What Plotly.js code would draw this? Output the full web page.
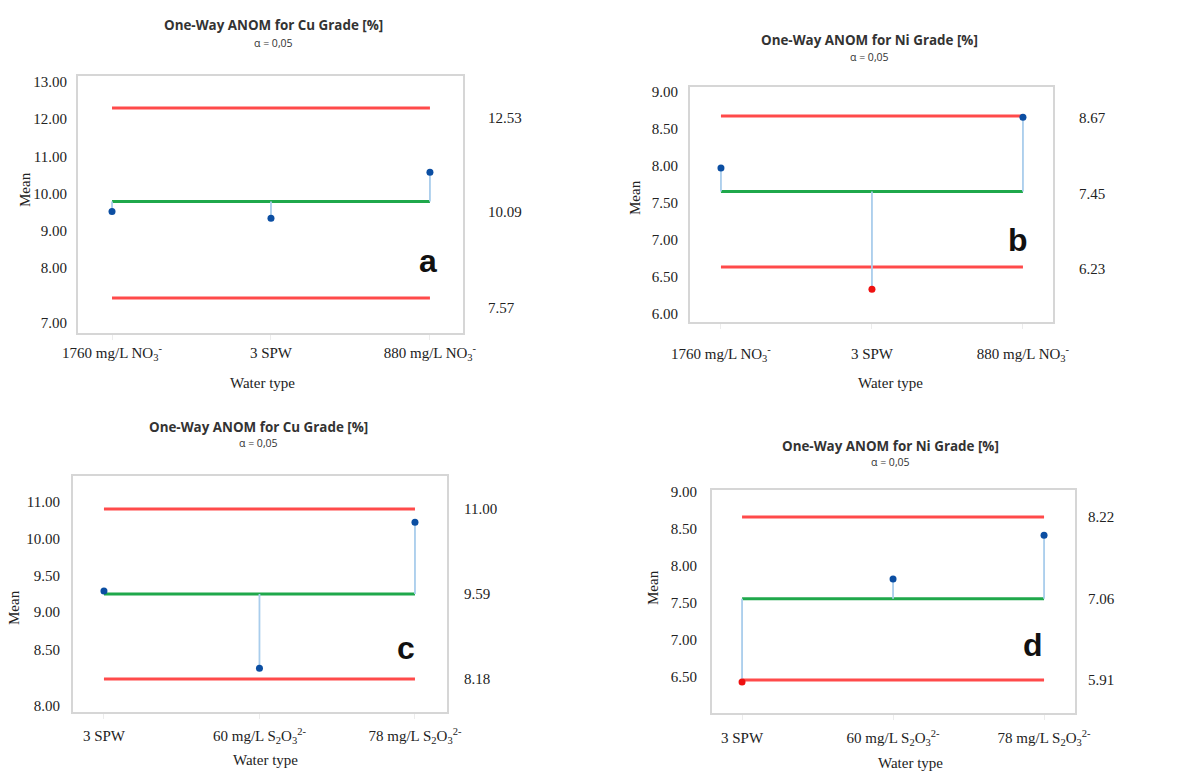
<!DOCTYPE html>
<html><head><meta charset="utf-8">
<script src="https://cdn.plot.ly/plotly-3.0.1.min.js"></script>
<style>html,body{margin:0;padding:0;background:#fff}#chart{width:1193px;height:771px}</style>
</head><body><div id="chart"></div>
<script>
// ---------- data ----------
const catsNitrate = ['1760 mg/L NO<sub>3</sub><sup>-</sup>', '3 SPW', '880 mg/L NO<sub>3</sub><sup>-</sup>'];
const catsThio = ['3 SPW', '60 mg/L S<sub>2</sub>O<sub>3</sub><sup>2-</sup>', '78 mg/L S<sub>2</sub>O<sub>3</sub><sup>2-</sup>'];

// group means
const cuNitrateMeans = [9.83, 9.65, 10.85];
const niNitrateMeans = [7.83, 5.87, 8.65];
const cuThioMeans = [9.64, 8.36, 10.78];
const niThioMeans = [5.88, 7.34, 7.96];

// decision limits [LDL, center line, UDL]
const cuNitrateLimits = [7.57, 10.09, 12.53];
const niNitrateLimits = [6.23, 7.45, 8.67];
const cuThioLimits = [8.18, 9.59, 11.00];
const niThioLimits = [5.91, 7.06, 8.22];

// printed left-axis tick labels
const leftTicksA = ['13.00', '12.00', '11.00', '10.00', '9.00', '8.00', '7.00'];
const leftTicksB = ['9.00', '8.50', '8.00', '7.50', '7.00', '6.50', '6.00'];
const leftTicksC = ['11.00', '10.00', '9.50', '9.00', '8.50', '8.00'];
const leftTicksD = ['9.00', '8.50', '8.00', '7.50', '7.00', '6.50', '6.00'];

const titleCu = 'One-Way ANOM for Cu Grade [%]';
const titleNi = 'One-Way ANOM for Ni Grade [%]';
const alphaText = 'α = 0,05';
const panelLetters = ['a', 'b', 'c', 'd'];

// ---------- styling / layout ----------
const W = 1193, H = 771;
const px = v => v / W, py = v => 1 - v / H;
const serif = 'Liberation Serif, DejaVu Serif, serif';
const RED = '#ff4a4a', GREEN = '#1fa84b', STEM = '#a9cdec', BLUE = '#0b4ea2', PTRED = '#ee1111';

const panels = [
  { cats: catsNitrate, means: cuNitrateMeans, lim: cuNitrateLimits, title: titleCu,
    box: [78, 463, 76, 333], xr: [-0.214, 2.208],
    leftRange: [6.25, 13.16], leftVals: [13, 12, 11, 10, 9, 8, 6.52], leftText: leftTicksA,
    rightRange: [6.657, 13.365], rightShift: 10, leftStand: 6, rightStand: 24, xStand: 0,
    titleXY: [273, 25, 43], meanXY: [25, 190], wtXY: [262, 383], letterXY: [428, 261] },
  { cats: catsNitrate, means: niNitrateMeans, lim: niNitrateLimits, title: titleNi,
    box: [690, 1053, 87, 322], xr: [-0.205, 2.199],
    leftRange: [5.892, 9.068], leftVals: [9, 8.5, 8, 7.5, 7, 6.5, 6], leftText: leftTicksB,
    rightRange: [5.341, 9.138], rightShift: 2, leftStand: 7, rightStand: 25, xStand: 12,
    titleXY: [869, 40, 57], meanXY: [635, 198], wtXY: [890, 383], letterXY: [1018, 240] },
  { cats: catsThio, means: cuThioMeans, lim: cuThioLimits, title: titleCu,
    box: [73, 447, 476, 712], xr: [-0.199, 2.206],
    leftRange: [7.662, 10.851], leftVals: [10.5, 10, 9.5, 9.01, 8.5, 7.74], leftText: leftTicksC,
    rightRange: [7.633, 11.547], rightShift: 0, leftStand: 8, rightStand: 16, xStand: 4,
    titleXY: [258, 427, 443], meanXY: [14, 608], wtXY: [265, 760], letterXY: [406, 648] },
  { cats: catsThio, means: niThioMeans, lim: niThioLimits, title: titleNi,
    box: [712, 1075, 490, 713], xr: [-0.199, 2.205],
    leftRange: [6.014, 9.027], leftVals: [9, 8.5, 8, 7.5, 7, 6.5, 6], leftText: leftTicksD,
    rightRange: [5.442, 8.603], rightShift: 0, leftStand: 10, rightStand: 12, xStand: 5,
    titleXY: [890, 446, 462], meanXY: [653, 588], wtXY: [910, 763], letterXY: [1033, 645] }
];

const traces = [];
const layout = {
  width: W, height: H, margin: { l: 0, r: 0, t: 0, b: 0 },
  paper_bgcolor: '#fff', plot_bgcolor: '#fff', showlegend: false,
  annotations: []
};

panels.forEach((p, i) => {
  const xn = i === 0 ? '' : String(i + 1);
  const yl = 2 * i + 1 === 1 ? '' : String(2 * i + 1);
  const yr = String(2 * i + 2);
  const xid = 'x' + xn, ylid = 'y' + yl, yrid = 'y' + yr;
  const [x0, x1, y0, y1] = p.box;
  const [ldl, cl, udl] = p.lim;

  // empty trace that binds the left (printed) axis to its subplot
  traces.push({ type: 'scatter', mode: 'markers', x: [], y: [], xaxis: xid, yaxis: ylid, hoverinfo: 'skip' });

  // decision limits and centre line
  [[udl, RED], [ldl, RED], [cl, GREEN]].forEach(([v, c]) => {
    traces.push({ type: 'scatter', mode: 'lines', x: p.cats, y: p.cats.map(() => v),
      xaxis: xid, yaxis: yrid, line: { color: c, width: 3 }, hoverinfo: 'skip' });
  });
  // stems
  const sx = [], sy = [];
  p.cats.forEach((c, k) => { sx.push(c, c, null); sy.push(cl, p.means[k], null); });
  traces.push({ type: 'scatter', mode: 'lines', x: sx, y: sy, xaxis: xid, yaxis: yrid,
    line: { color: STEM, width: 1.8 }, connectgaps: false, hoverinfo: 'skip' });
  // means
  traces.push({ type: 'scatter', mode: 'markers', x: p.cats, y: p.means, xaxis: xid, yaxis: yrid,
    marker: { size: 7, color: p.means.map(v => (v > udl || v < ldl) ? PTRED : BLUE) } });

  layout['xaxis' + xn] = {
    domain: [px(x0), px(x1)], anchor: ylid, type: 'category', range: p.xr,
    categoryorder: 'array', categoryarray: p.cats,
    showgrid: false, zeroline: false, showline: true, mirror: true, linecolor: '#d6d6d6', linewidth: 2,
    ticks: 'outside', ticklen: 5, tickcolor: '#ececec', ticklabelstandoff: p.xStand,
    tickfont: { family: serif, size: 15, color: '#222' }, fixedrange: true
  };
  layout['yaxis' + yl] = {
    domain: [py(y1), py(y0)], anchor: xid, range: p.leftRange, autorange: false,
    tickmode: 'array', tickvals: p.leftVals, ticktext: p.leftText,
    showgrid: false, zeroline: false, showline: true, mirror: true, linecolor: '#d6d6d6', linewidth: 2,
    ticks: '', ticklabelstandoff: p.leftStand,
    tickfont: { family: serif, size: 15, color: '#222' }, fixedrange: true
  };
  layout['yaxis' + yr] = {
    overlaying: ylid, side: 'right', anchor: xid, range: p.rightRange, autorange: false,
    tickmode: 'array', tickvals: [udl, cl, ldl], ticktext: [udl, cl, ldl].map(v => v.toFixed(2)),
    showgrid: false, zeroline: false, showline: false, ticks: '',
    ticklabelstandoff: p.rightStand, ticklabelshift: p.rightShift,
    tickfont: { family: serif, size: 15, color: '#222' }, fixedrange: true
  };

  const A = layout.annotations;
  A.push({ xref: 'paper', yref: 'paper', x: px(p.titleXY[0]), y: py(p.titleXY[1]), text: '<b>' + p.title + '</b>',
    showarrow: false, xanchor: 'center', yanchor: 'middle', font: { family: 'Open Sans, sans-serif', size: 13.4, color: '#333' } });
  A.push({ xref: 'paper', yref: 'paper', x: px(p.titleXY[0]), y: py(p.titleXY[2]), text: alphaText,
    showarrow: false, xanchor: 'center', yanchor: 'middle', font: { family: 'Open Sans, sans-serif', size: 10.5, color: '#333' } });
  A.push({ xref: 'paper', yref: 'paper', x: px(p.meanXY[0]), y: py(p.meanXY[1]), text: 'Mean', textangle: -90,
    showarrow: false, xanchor: 'center', yanchor: 'middle', font: { family: serif, size: 15, color: '#222' } });
  A.push({ xref: 'paper', yref: 'paper', x: px(p.wtXY[0]), y: py(p.wtXY[1]), text: 'Water type',
    showarrow: false, xanchor: 'center', yanchor: 'middle', font: { family: serif, size: 15, color: '#222' } });
  A.push({ xref: 'paper', yref: 'paper', x: px(p.letterXY[0]), y: py(p.letterXY[1]), text: '<b>' + panelLetters[i] + '</b>',
    showarrow: false, xanchor: 'center', yanchor: 'middle', font: { family: 'Liberation Sans, Arial, sans-serif', size: 32, color: '#111' } });
});

Plotly.newPlot('chart', traces, layout, { displayModeBar: false, staticPlot: true });
</script>
</body></html>
